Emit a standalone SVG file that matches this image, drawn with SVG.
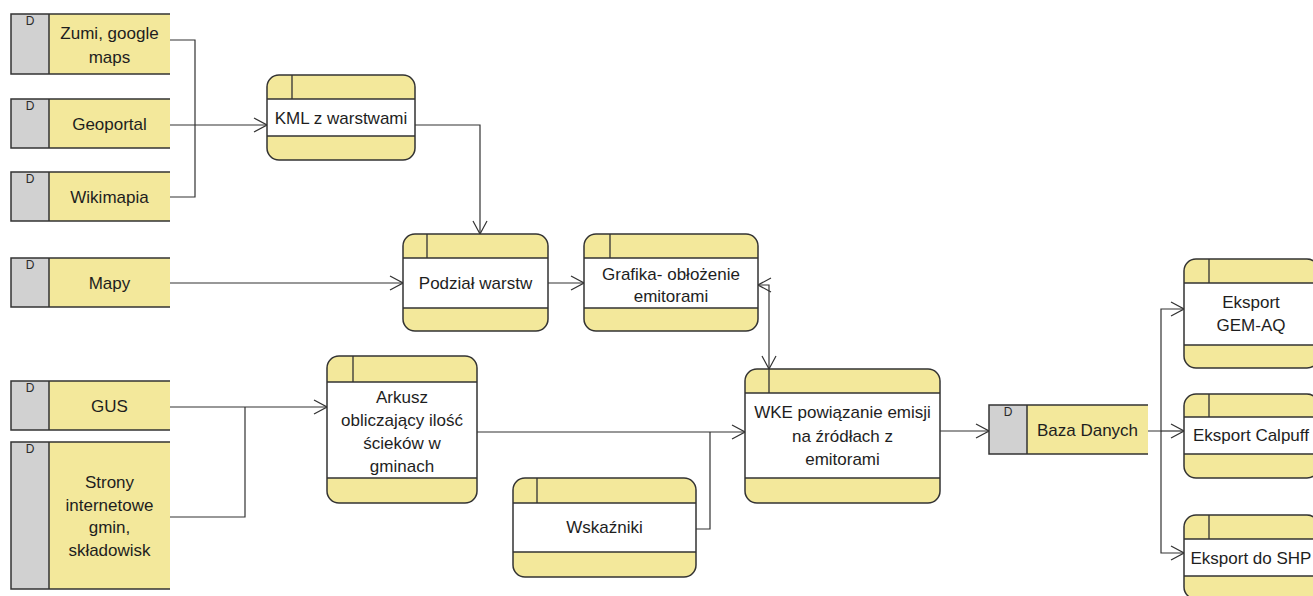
<svg xmlns="http://www.w3.org/2000/svg" width="1313" height="596" viewBox="0 0 1313 596">
  <defs>
    <marker id="open-arrow" viewBox="0 0 15 16" refX="14" refY="8" markerWidth="15" markerHeight="16" markerUnits="userSpaceOnUse" orient="auto-start-reverse">
      <path d="M1,1 L14,8 L1,15" fill="none" stroke="#333333" stroke-width="1.2"/>
    </marker>
    <style>
      .bg { fill: #ffffff; }
      .proc-fill { fill: #f3e89b; }
      .proc-mid { fill: #ffffff; }
      .proc-line { stroke: #333333; stroke-width: 1.3; fill: none; }
      .proc-edge { fill: none; stroke: #333333; stroke-width: 1.5; }
      .store-gray { fill: #d1d1d1; }
      .store-yellow { fill: #f3e89b; }
      .store-line { stroke: #333333; stroke-width: 1.5; fill: none; }
      .label { font-family: "Liberation Sans", Arial, sans-serif; font-size: 17px; fill: #1e1e1e; text-anchor: middle; }
      .tag { font-family: "Liberation Sans", Arial, sans-serif; font-size: 12px; fill: #2a2a2a; text-anchor: middle; }
      .wire { fill: none; stroke: #333333; stroke-width: 1.2; }
    </style>
  </defs>

  <rect class="bg" x="0" y="0" width="1313" height="596"/>

  <!-- connectors -->
  <g id="connectors">
    <path class="wire" d="M170,40 H195 V125"/>
    <path class="wire" d="M170,197 H195 V125"/>
    <path class="wire" d="M170,125 H267" marker-end="url(#open-arrow)"/>
    <path class="wire" d="M415,125 H480 V234" marker-end="url(#open-arrow)"/>
    <path class="wire" d="M170,283 H403" marker-end="url(#open-arrow)"/>
    <path class="wire" d="M548,283 H584" marker-end="url(#open-arrow)"/>
    <path class="wire" d="M758,285 H769 V369" marker-start="url(#open-arrow)" marker-end="url(#open-arrow)"/>
    <path class="wire" d="M170,407 H327" marker-end="url(#open-arrow)"/>
    <path class="wire" d="M170,517 H245 V407"/>
    <path class="wire" d="M477,432 H745" marker-end="url(#open-arrow)"/>
    <path class="wire" d="M696,529 H710 V432"/>
    <path class="wire" d="M940,431 H989" marker-end="url(#open-arrow)"/>
    <path class="wire" d="M1148,431 H1161 V309 H1184" marker-end="url(#open-arrow)"/>
    <path class="wire" d="M1161,431 H1184" marker-end="url(#open-arrow)"/>
    <path class="wire" d="M1161,431 V553 H1184" marker-end="url(#open-arrow)"/>
  </g>

  <!-- data stores -->
  <g id="store-zumi">
    <rect class="store-gray" x="11" y="14" width="38" height="60"/>
    <rect class="store-yellow" x="49" y="14" width="121" height="60"/>
    <path class="store-line" d="M170,14 H11 V74 H170 M49,14 V74"/>
    <text class="tag" x="30" y="25">D</text>
    <text class="label" x="109.5" y="39">Zumi, google</text>
    <text class="label" x="109.5" y="63">maps</text>
  </g>
  <g id="store-geoportal">
    <rect class="store-gray" x="11" y="99" width="38" height="49"/>
    <rect class="store-yellow" x="49" y="99" width="121" height="49"/>
    <path class="store-line" d="M170,99 H11 V148 H170 M49,99 V148"/>
    <text class="tag" x="30" y="110">D</text>
    <text class="label" x="109.5" y="130">Geoportal</text>
  </g>
  <g id="store-wikimapia">
    <rect class="store-gray" x="11" y="172" width="38" height="49"/>
    <rect class="store-yellow" x="49" y="172" width="121" height="49"/>
    <path class="store-line" d="M170,172 H11 V221 H170 M49,172 V221"/>
    <text class="tag" x="30" y="183">D</text>
    <text class="label" x="109.5" y="203">Wikimapia</text>
  </g>
  <g id="store-mapy">
    <rect class="store-gray" x="11" y="258" width="38" height="49"/>
    <rect class="store-yellow" x="49" y="258" width="121" height="49"/>
    <path class="store-line" d="M170,258 H11 V307 H170 M49,258 V307"/>
    <text class="tag" x="30" y="269">D</text>
    <text class="label" x="109.5" y="289">Mapy</text>
  </g>
  <g id="store-gus">
    <rect class="store-gray" x="11" y="381" width="38" height="49"/>
    <rect class="store-yellow" x="49" y="381" width="121" height="49"/>
    <path class="store-line" d="M170,381 H11 V430 H170 M49,381 V430"/>
    <text class="tag" x="30" y="392">D</text>
    <text class="label" x="109.5" y="412">GUS</text>
  </g>
  <g id="store-strony">
    <rect class="store-gray" x="11" y="442" width="38" height="147"/>
    <rect class="store-yellow" x="49" y="442" width="121" height="147"/>
    <path class="store-line" d="M170,442 H11 V589 H170 M49,442 V589"/>
    <text class="tag" x="30" y="453">D</text>
    <text class="label" x="109.5" y="488">Strony</text>
    <text class="label" x="109.5" y="510.5">internetowe</text>
    <text class="label" x="109.5" y="533">gmin,</text>
    <text class="label" x="109.5" y="555.5">składowisk</text>
  </g>
  <g id="store-baza">
    <rect class="store-gray" x="989" y="405" width="38" height="49"/>
    <rect class="store-yellow" x="1027" y="405" width="121" height="49"/>
    <path class="store-line" d="M1148,405 H989 V454 H1148 M1027,405 V454"/>
    <text class="tag" x="1008" y="416">D</text>
    <text class="label" x="1087.5" y="436">Baza Danych</text>
  </g>

  <!-- processes -->
  <g id="proc-kml">
    <rect class="proc-fill" x="267" y="75" width="148" height="85" rx="12"/>
    <rect class="proc-mid" x="267" y="99" width="148" height="37"/>
    <path class="proc-line" d="M267,99 H415 M267,136 H415 M292,75 V99"/>
    <rect class="proc-edge" x="267" y="75" width="148" height="85" rx="12"/>
    <text class="label" x="341" y="124">KML z warstwami</text>
  </g>
  <g id="proc-podzial">
    <rect class="proc-fill" x="403" y="234" width="145" height="97" rx="12"/>
    <rect class="proc-mid" x="403" y="258" width="145" height="50"/>
    <path class="proc-line" d="M403,258 H548 M403,308 H548 M427,234 V258"/>
    <rect class="proc-edge" x="403" y="234" width="145" height="97" rx="12"/>
    <text class="label" x="475.5" y="289">Podział warstw</text>
  </g>
  <g id="proc-grafika">
    <rect class="proc-fill" x="584" y="234" width="174" height="97" rx="12"/>
    <rect class="proc-mid" x="584" y="258" width="174" height="50"/>
    <path class="proc-line" d="M584,258 H758 M584,308 H758 M610,234 V258"/>
    <rect class="proc-edge" x="584" y="234" width="174" height="97" rx="12"/>
    <text class="label" x="671" y="280">Grafika- obłożenie</text>
    <text class="label" x="671" y="302">emitorami</text>
  </g>
  <g id="proc-arkusz">
    <rect class="proc-fill" x="327" y="356" width="150" height="147" rx="12"/>
    <rect class="proc-mid" x="327" y="382" width="150" height="96"/>
    <path class="proc-line" d="M327,382 H477 M327,478 H477 M353,356 V382"/>
    <rect class="proc-edge" x="327" y="356" width="150" height="147" rx="12"/>
    <text class="label" x="402" y="403">Arkusz</text>
    <text class="label" x="402" y="426">obliczający ilość</text>
    <text class="label" x="402" y="449">ścieków w</text>
    <text class="label" x="402" y="472">gminach</text>
  </g>
  <g id="proc-wke">
    <rect class="proc-fill" x="745" y="369" width="195" height="134" rx="12"/>
    <rect class="proc-mid" x="745" y="393" width="195" height="85"/>
    <path class="proc-line" d="M745,393 H940 M745,478 H940 M769,369 V393"/>
    <rect class="proc-edge" x="745" y="369" width="195" height="134" rx="12"/>
    <text class="label" x="842.5" y="418">WKE powiązanie emisji</text>
    <text class="label" x="842.5" y="442">na źródłach z</text>
    <text class="label" x="842.5" y="465">emitorami</text>
  </g>
  <g id="proc-wskazniki">
    <rect class="proc-fill" x="513" y="478" width="183" height="99" rx="12"/>
    <rect class="proc-mid" x="513" y="503" width="183" height="49"/>
    <path class="proc-line" d="M513,503 H696 M513,552 H696 M537,478 V503"/>
    <rect class="proc-edge" x="513" y="478" width="183" height="99" rx="12"/>
    <text class="label" x="604.5" y="533">Wskaźniki</text>
  </g>
  <g id="proc-gemaq">
    <rect class="proc-fill" x="1184" y="259" width="135" height="109" rx="12"/>
    <rect class="proc-mid" x="1184" y="283" width="135" height="62"/>
    <path class="proc-line" d="M1184,283 H1319 M1184,345 H1319 M1209,259 V283"/>
    <rect class="proc-edge" x="1184" y="259" width="135" height="109" rx="12"/>
    <text class="label" x="1251" y="308">Eksport</text>
    <text class="label" x="1251" y="331">GEM-AQ</text>
  </g>
  <g id="proc-calpuff">
    <rect class="proc-fill" x="1184" y="394" width="135" height="84" rx="12"/>
    <rect class="proc-mid" x="1184" y="417" width="135" height="37"/>
    <path class="proc-line" d="M1184,417 H1319 M1184,454 H1319 M1209,394 V417"/>
    <rect class="proc-edge" x="1184" y="394" width="135" height="84" rx="12"/>
    <text class="label" x="1251" y="441">Eksport Calpuff</text>
  </g>
  <g id="proc-shp">
    <rect class="proc-fill" x="1184" y="515" width="135" height="84" rx="12"/>
    <rect class="proc-mid" x="1184" y="539" width="135" height="37"/>
    <path class="proc-line" d="M1184,539 H1319 M1184,576 H1319 M1209,515 V539"/>
    <rect class="proc-edge" x="1184" y="515" width="135" height="84" rx="12"/>
    <text class="label" x="1251" y="564">Eksport do SHP</text>
  </g>
</svg>
